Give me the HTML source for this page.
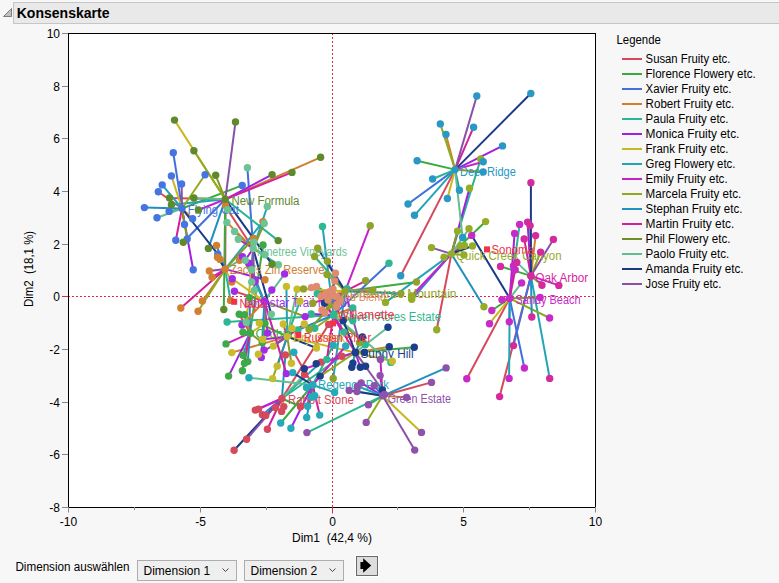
<!DOCTYPE html><html><head><meta charset="utf-8"><title>Konsenskarte</title><style>
html,body{margin:0;padding:0;background:#f7f7f7;}body{width:779px;height:583px;overflow:hidden;font-family:"Liberation Sans",sans-serif;}
svg{display:block;}text{font-family:"Liberation Sans",sans-serif;}
</style></head><body>
<svg width="779" height="583" viewBox="0 0 779 583">
<rect x="0" y="0" width="779" height="583" fill="#f7f7f7"/>
<rect x="13.5" y="2.5" width="770" height="21" fill="#e9e9e9" stroke="#c6c6c6" stroke-width="1"/>
<path d="M3.5 16.5 L11.5 16.5 L11.5 8.5 Z" fill="#c0c0c0" stroke="#7c7c7c" stroke-width="1"/>
<text x="16.7" y="17.7" font-size="15.4" font-weight="bold" fill="#000" textLength="92.8" lengthAdjust="spacingAndGlyphs">Konsenskarte</text>
<rect x="68" y="33" width="527" height="474" fill="#fff"/>
<line x1="68" y1="296.5" x2="595" y2="296.5" stroke="#e0284a" stroke-width="1" stroke-dasharray="2 2"/>
<line x1="332.5" y1="33" x2="332.5" y2="507" stroke="#e0284a" stroke-width="1" stroke-dasharray="2 2"/>
<g id="data">
<g stroke-width="2" stroke-linecap="butt" font-size="12">
<line x1="281.9" y1="398.5" x2="328.7" y2="324.4" stroke="#D5495A"/>
<line x1="250" y1="333.1" x2="239.2" y2="314.3" stroke="#D5495A"/>
<line x1="182" y1="208.5" x2="158.3" y2="191.7" stroke="#D5495A"/>
<line x1="225.2" y1="269.1" x2="225.6" y2="205.2" stroke="#D5495A"/>
<line x1="333.5" y1="315" x2="317.3" y2="293.8" stroke="#D5495A"/>
<line x1="264.4" y1="301.4" x2="234.4" y2="291.2" stroke="#D5495A"/>
<line x1="287.2" y1="336.6" x2="283.3" y2="324" stroke="#D5495A"/>
<line x1="312.7" y1="385" x2="293.8" y2="352.2" stroke="#D5495A"/>
<line x1="509.7" y1="298.3" x2="466.8" y2="378.7" stroke="#D5495A"/>
<line x1="451.4" y1="253.9" x2="436.7" y2="329.7" stroke="#D5495A"/>
<line x1="455.1" y1="169.6" x2="400.7" y2="275.8" stroke="#D5495A"/>
<line x1="530.9" y1="275.9" x2="499.6" y2="396.6" stroke="#D5495A"/>
<line x1="345.2" y1="291.2" x2="312.8" y2="303.2" stroke="#D5495A"/>
<line x1="253.2" y1="248.5" x2="227.6" y2="209.8" stroke="#D5495A"/>
<line x1="355.4" y1="352.5" x2="364.4" y2="352.4" stroke="#D5495A"/>
<line x1="382.6" y1="395.8" x2="431.5" y2="382.4" stroke="#D5495A"/>
<line x1="331.5" y1="295.5" x2="311.4" y2="287.6" stroke="#D5495A"/>
<line x1="225.3" y1="199.3" x2="169.5" y2="198" stroke="#D5495A"/>
<line x1="281.9" y1="398.5" x2="300.5" y2="406.7" stroke="#3CAA3C"/>
<line x1="250" y1="333.1" x2="263" y2="245" stroke="#3CAA3C"/>
<line x1="182" y1="208.5" x2="242.2" y2="185.4" stroke="#3CAA3C"/>
<line x1="333.5" y1="315" x2="347" y2="288.8" stroke="#3CAA3C"/>
<line x1="264.4" y1="301.4" x2="242.4" y2="256.6" stroke="#3CAA3C"/>
<line x1="287.2" y1="336.6" x2="259.3" y2="323.1" stroke="#3CAA3C"/>
<line x1="312.7" y1="385" x2="280.7" y2="423" stroke="#3CAA3C"/>
<line x1="509.7" y1="298.3" x2="491.8" y2="310.5" stroke="#3CAA3C"/>
<line x1="451.4" y1="253.9" x2="485.6" y2="221.6" stroke="#3CAA3C"/>
<line x1="455.1" y1="169.6" x2="417.1" y2="160.8" stroke="#3CAA3C"/>
<line x1="530.9" y1="275.9" x2="500.5" y2="266.4" stroke="#3CAA3C"/>
<line x1="345.2" y1="291.2" x2="416.5" y2="282" stroke="#3CAA3C"/>
<line x1="253.2" y1="248.5" x2="234.6" y2="231.4" stroke="#3CAA3C"/>
<line x1="355.4" y1="352.5" x2="414.3" y2="347.2" stroke="#3CAA3C"/>
<line x1="382.6" y1="395.8" x2="368.4" y2="404.8" stroke="#3CAA3C"/>
<line x1="331.5" y1="295.5" x2="316.5" y2="286.4" stroke="#3CAA3C"/>
<line x1="225.3" y1="199.3" x2="223.8" y2="309.5" stroke="#3CAA3C"/>
<line x1="281.9" y1="398.5" x2="262.4" y2="414.7" stroke="#4070DC"/>
<line x1="250" y1="333.1" x2="249.6" y2="297.8" stroke="#4070DC"/>
<line x1="182" y1="208.5" x2="173.3" y2="152.8" stroke="#4070DC"/>
<line x1="225.2" y1="269.1" x2="220.1" y2="259.4" stroke="#4070DC"/>
<line x1="333.5" y1="315" x2="389" y2="263.3" stroke="#4070DC"/>
<line x1="264.4" y1="301.4" x2="248.8" y2="263.2" stroke="#4070DC"/>
<line x1="287.2" y1="336.6" x2="292" y2="328.4" stroke="#4070DC"/>
<line x1="312.7" y1="385" x2="306.5" y2="387.6" stroke="#4070DC"/>
<line x1="509.7" y1="298.3" x2="524.4" y2="368" stroke="#4070DC"/>
<line x1="451.4" y1="253.9" x2="411.7" y2="299.3" stroke="#4070DC"/>
<line x1="455.1" y1="169.6" x2="408" y2="204" stroke="#4070DC"/>
<line x1="530.9" y1="275.9" x2="513.5" y2="345.6" stroke="#4070DC"/>
<line x1="345.2" y1="291.2" x2="327.4" y2="261.3" stroke="#4070DC"/>
<line x1="253.2" y1="248.5" x2="247.4" y2="167.7" stroke="#4070DC"/>
<line x1="355.4" y1="352.5" x2="352.9" y2="363.1" stroke="#4070DC"/>
<line x1="382.6" y1="395.8" x2="374.2" y2="385.8" stroke="#4070DC"/>
<line x1="331.5" y1="295.5" x2="321" y2="296.4" stroke="#4070DC"/>
<line x1="225.3" y1="199.3" x2="183.3" y2="242.2" stroke="#4070DC"/>
<line x1="281.9" y1="398.5" x2="281.6" y2="411.4" stroke="#CF7F30"/>
<line x1="250" y1="333.1" x2="244.6" y2="314.8" stroke="#CF7F30"/>
<line x1="182" y1="208.5" x2="192.6" y2="218.7" stroke="#CF7F30"/>
<line x1="225.2" y1="269.1" x2="202.4" y2="301" stroke="#CF7F30"/>
<line x1="333.5" y1="315" x2="352.8" y2="308" stroke="#CF7F30"/>
<line x1="264.4" y1="301.4" x2="242" y2="325" stroke="#CF7F30"/>
<line x1="287.2" y1="336.6" x2="231.8" y2="352.6" stroke="#CF7F30"/>
<line x1="312.7" y1="385" x2="313.6" y2="396.4" stroke="#CF7F30"/>
<line x1="509.7" y1="298.3" x2="502" y2="299.7" stroke="#CF7F30"/>
<line x1="451.4" y1="253.9" x2="444" y2="257.3" stroke="#CF7F30"/>
<line x1="455.1" y1="169.6" x2="446.0" y2="134.5" stroke="#CF7F30"/>
<line x1="530.9" y1="275.9" x2="535.6" y2="235.6" stroke="#CF7F30"/>
<line x1="345.2" y1="291.2" x2="372.8" y2="290.1" stroke="#CF7F30"/>
<line x1="253.2" y1="248.5" x2="226.9" y2="222.4" stroke="#CF7F30"/>
<line x1="355.4" y1="352.5" x2="389.3" y2="346.7" stroke="#CF7F30"/>
<line x1="382.6" y1="395.8" x2="406.6" y2="397.4" stroke="#CF7F30"/>
<line x1="331.5" y1="295.5" x2="325.8" y2="293.5" stroke="#CF7F30"/>
<line x1="225.3" y1="199.3" x2="320.6" y2="157.3" stroke="#CF7F30"/>
<line x1="281.9" y1="398.5" x2="341.8" y2="356.2" stroke="#28B58F"/>
<line x1="250" y1="333.1" x2="243" y2="332.2" stroke="#28B58F"/>
<line x1="182" y1="208.5" x2="169.1" y2="211.4" stroke="#28B58F"/>
<line x1="225.2" y1="269.1" x2="230.5" y2="300.4" stroke="#28B58F"/>
<line x1="333.5" y1="315" x2="227.1" y2="322" stroke="#28B58F"/>
<line x1="264.4" y1="301.4" x2="271.8" y2="290" stroke="#28B58F"/>
<line x1="287.2" y1="336.6" x2="299.9" y2="301.2" stroke="#28B58F"/>
<line x1="312.7" y1="385" x2="333.2" y2="345.2" stroke="#28B58F"/>
<line x1="509.7" y1="298.3" x2="519.6" y2="224.4" stroke="#28B58F"/>
<line x1="451.4" y1="253.9" x2="480.7" y2="159" stroke="#28B58F"/>
<line x1="455.1" y1="169.6" x2="432.6" y2="179" stroke="#28B58F"/>
<line x1="530.9" y1="275.9" x2="530.1" y2="225.6" stroke="#28B58F"/>
<line x1="345.2" y1="291.2" x2="314.6" y2="256.5" stroke="#28B58F"/>
<line x1="253.2" y1="248.5" x2="278.4" y2="264.7" stroke="#28B58F"/>
<line x1="355.4" y1="352.5" x2="351.8" y2="367.3" stroke="#28B58F"/>
<line x1="382.6" y1="395.8" x2="306.9" y2="432.6" stroke="#28B58F"/>
<line x1="331.5" y1="295.5" x2="329.7" y2="291.6" stroke="#28B58F"/>
<line x1="225.3" y1="199.3" x2="278.2" y2="240.6" stroke="#28B58F"/>
<line x1="281.9" y1="398.5" x2="255.3" y2="410.1" stroke="#A020E0"/>
<line x1="250" y1="333.1" x2="228.6" y2="376.1" stroke="#A020E0"/>
<line x1="182" y1="208.5" x2="193.2" y2="269.8" stroke="#A020E0"/>
<line x1="225.2" y1="269.1" x2="265" y2="279.7" stroke="#A020E0"/>
<line x1="333.5" y1="315" x2="311.2" y2="314" stroke="#A020E0"/>
<line x1="287.2" y1="336.6" x2="262.8" y2="339.5" stroke="#A020E0"/>
<line x1="312.7" y1="385" x2="290.9" y2="428.2" stroke="#A020E0"/>
<line x1="509.7" y1="298.3" x2="514.6" y2="233.4" stroke="#A020E0"/>
<line x1="451.4" y1="253.9" x2="469.5" y2="188.3" stroke="#A020E0"/>
<line x1="455.1" y1="169.6" x2="502.5" y2="145.9" stroke="#A020E0"/>
<line x1="530.9" y1="275.9" x2="527.6" y2="222.1" stroke="#A020E0"/>
<line x1="345.2" y1="291.2" x2="329.3" y2="305.1" stroke="#A020E0"/>
<line x1="253.2" y1="248.5" x2="245.2" y2="260.2" stroke="#A020E0"/>
<line x1="355.4" y1="352.5" x2="360.3" y2="367.3" stroke="#A020E0"/>
<line x1="382.6" y1="395.8" x2="361.2" y2="382.9" stroke="#A020E0"/>
<line x1="331.5" y1="295.5" x2="332.6" y2="294.5" stroke="#A020E0"/>
<line x1="225.3" y1="199.3" x2="272.1" y2="174.6" stroke="#A020E0"/>
<line x1="281.9" y1="398.5" x2="283.8" y2="406.6" stroke="#C8B820"/>
<line x1="250" y1="333.1" x2="265" y2="323.6" stroke="#C8B820"/>
<line x1="182" y1="208.5" x2="171.4" y2="175.9" stroke="#C8B820"/>
<line x1="225.2" y1="269.1" x2="231.8" y2="282" stroke="#C8B820"/>
<line x1="333.5" y1="315" x2="352.8" y2="320.8" stroke="#C8B820"/>
<line x1="264.4" y1="301.4" x2="232.2" y2="278.7" stroke="#C8B820"/>
<line x1="287.2" y1="336.6" x2="392.3" y2="361.3" stroke="#C8B820"/>
<line x1="312.7" y1="385" x2="311.3" y2="397.2" stroke="#C8B820"/>
<line x1="509.7" y1="298.3" x2="489.5" y2="323.7" stroke="#C8B820"/>
<line x1="451.4" y1="253.9" x2="460.4" y2="246" stroke="#C8B820"/>
<line x1="455.1" y1="169.6" x2="447.4" y2="198.5" stroke="#C8B820"/>
<line x1="345.2" y1="291.2" x2="303.5" y2="288.9" stroke="#C8B820"/>
<line x1="253.2" y1="248.5" x2="246.3" y2="322.5" stroke="#C8B820"/>
<line x1="355.4" y1="352.5" x2="365.6" y2="366.2" stroke="#C8B820"/>
<line x1="382.6" y1="395.8" x2="421.5" y2="432.4" stroke="#C8B820"/>
<line x1="331.5" y1="295.5" x2="336.4" y2="296.4" stroke="#C8B820"/>
<line x1="225.3" y1="199.3" x2="174.5" y2="120.1" stroke="#C8B820"/>
<line x1="281.9" y1="398.5" x2="321" y2="362.1" stroke="#21A5B5"/>
<line x1="250" y1="333.1" x2="243" y2="355.3" stroke="#21A5B5"/>
<line x1="182" y1="208.5" x2="162.2" y2="184.9" stroke="#21A5B5"/>
<line x1="225.2" y1="269.1" x2="262.9" y2="221.6" stroke="#21A5B5"/>
<line x1="333.5" y1="315" x2="322.5" y2="226.5" stroke="#21A5B5"/>
<line x1="264.4" y1="301.4" x2="255" y2="281.6" stroke="#21A5B5"/>
<line x1="287.2" y1="336.6" x2="286.4" y2="286.4" stroke="#21A5B5"/>
<line x1="312.7" y1="385" x2="334.6" y2="392.4" stroke="#21A5B5"/>
<line x1="509.7" y1="298.3" x2="509.1" y2="378.4" stroke="#21A5B5"/>
<line x1="451.4" y1="253.9" x2="385.5" y2="302.4" stroke="#21A5B5"/>
<line x1="455.1" y1="169.6" x2="414.5" y2="215.3" stroke="#21A5B5"/>
<line x1="530.9" y1="275.9" x2="549.7" y2="378.4" stroke="#21A5B5"/>
<line x1="345.2" y1="291.2" x2="333.2" y2="378.5" stroke="#21A5B5"/>
<line x1="253.2" y1="248.5" x2="267.3" y2="206.5" stroke="#21A5B5"/>
<line x1="355.4" y1="352.5" x2="316.2" y2="363.7" stroke="#21A5B5"/>
<line x1="382.6" y1="395.8" x2="357.5" y2="386.2" stroke="#21A5B5"/>
<line x1="331.5" y1="295.5" x2="334.8" y2="281" stroke="#21A5B5"/>
<line x1="225.3" y1="199.3" x2="171.4" y2="204.7" stroke="#21A5B5"/>
<line x1="281.9" y1="398.5" x2="258.5" y2="409.1" stroke="#C820C8"/>
<line x1="250" y1="333.1" x2="226" y2="343.9" stroke="#C820C8"/>
<line x1="182" y1="208.5" x2="184.5" y2="224.5" stroke="#C820C8"/>
<line x1="225.2" y1="269.1" x2="212.1" y2="277.2" stroke="#C820C8"/>
<line x1="333.5" y1="315" x2="344.1" y2="332.1" stroke="#C820C8"/>
<line x1="264.4" y1="301.4" x2="267.5" y2="333" stroke="#C820C8"/>
<line x1="287.2" y1="336.6" x2="273.4" y2="346.1" stroke="#C820C8"/>
<line x1="312.7" y1="385" x2="345.7" y2="346" stroke="#C820C8"/>
<line x1="509.7" y1="298.3" x2="513.4" y2="266" stroke="#C820C8"/>
<line x1="451.4" y1="253.9" x2="411.6" y2="296" stroke="#C820C8"/>
<line x1="455.1" y1="169.6" x2="483.2" y2="161.8" stroke="#C820C8"/>
<line x1="530.9" y1="275.9" x2="558.8" y2="285.4" stroke="#C820C8"/>
<line x1="345.2" y1="291.2" x2="370.2" y2="225.8" stroke="#C820C8"/>
<line x1="253.2" y1="248.5" x2="251.7" y2="282" stroke="#C820C8"/>
<line x1="355.4" y1="352.5" x2="304.3" y2="368.7" stroke="#C820C8"/>
<line x1="382.6" y1="395.8" x2="380.4" y2="359.4" stroke="#C820C8"/>
<line x1="331.5" y1="295.5" x2="340.3" y2="300.3" stroke="#C820C8"/>
<line x1="225.3" y1="199.3" x2="198.4" y2="210" stroke="#C820C8"/>
<line x1="281.9" y1="398.5" x2="275.5" y2="407.6" stroke="#8FAA1F"/>
<line x1="250" y1="333.1" x2="244.5" y2="363.2" stroke="#8FAA1F"/>
<line x1="182" y1="208.5" x2="205.1" y2="174.7" stroke="#8FAA1F"/>
<line x1="225.2" y1="269.1" x2="198.1" y2="311.3" stroke="#8FAA1F"/>
<line x1="333.5" y1="315" x2="314.7" y2="328.2" stroke="#8FAA1F"/>
<line x1="264.4" y1="301.4" x2="264.1" y2="350.1" stroke="#8FAA1F"/>
<line x1="287.2" y1="336.6" x2="272.6" y2="378.6" stroke="#8FAA1F"/>
<line x1="312.7" y1="385" x2="314.8" y2="395.7" stroke="#8FAA1F"/>
<line x1="509.7" y1="298.3" x2="549.6" y2="318" stroke="#8FAA1F"/>
<line x1="451.4" y1="253.9" x2="463.9" y2="254.9" stroke="#8FAA1F"/>
<line x1="455.1" y1="169.6" x2="440.3" y2="123.9" stroke="#8FAA1F"/>
<line x1="530.9" y1="275.9" x2="540.6" y2="252.1" stroke="#8FAA1F"/>
<line x1="345.2" y1="291.2" x2="327" y2="274.5" stroke="#8FAA1F"/>
<line x1="253.2" y1="248.5" x2="264.9" y2="254.7" stroke="#8FAA1F"/>
<line x1="355.4" y1="352.5" x2="320.2" y2="376.1" stroke="#8FAA1F"/>
<line x1="382.6" y1="395.8" x2="366.2" y2="422.4" stroke="#8FAA1F"/>
<line x1="331.5" y1="295.5" x2="337.4" y2="304.1" stroke="#8FAA1F"/>
<line x1="225.3" y1="199.3" x2="193.9" y2="150.8" stroke="#8FAA1F"/>
<line x1="281.9" y1="398.5" x2="285.4" y2="354.9" stroke="#2090C0"/>
<line x1="250" y1="333.1" x2="247.8" y2="361.6" stroke="#2090C0"/>
<line x1="182" y1="208.5" x2="144.4" y2="207.6" stroke="#2090C0"/>
<line x1="225.2" y1="269.1" x2="216.5" y2="245.4" stroke="#2090C0"/>
<line x1="333.5" y1="315" x2="297.9" y2="330" stroke="#2090C0"/>
<line x1="264.4" y1="301.4" x2="261.3" y2="357.4" stroke="#2090C0"/>
<line x1="287.2" y1="336.6" x2="277.2" y2="366.3" stroke="#2090C0"/>
<line x1="312.7" y1="385" x2="306.7" y2="417.4" stroke="#2090C0"/>
<line x1="509.7" y1="298.3" x2="509.3" y2="321.7" stroke="#2090C0"/>
<line x1="451.4" y1="253.9" x2="483.9" y2="306.7" stroke="#2090C0"/>
<line x1="455.1" y1="169.6" x2="459.5" y2="190.2" stroke="#2090C0"/>
<line x1="530.9" y1="275.9" x2="531.8" y2="317" stroke="#2090C0"/>
<line x1="345.2" y1="291.2" x2="400.9" y2="293.6" stroke="#2090C0"/>
<line x1="253.2" y1="248.5" x2="251.7" y2="269.8" stroke="#2090C0"/>
<line x1="355.4" y1="352.5" x2="362.4" y2="337" stroke="#2090C0"/>
<line x1="382.6" y1="395.8" x2="446.1" y2="367.9" stroke="#2090C0"/>
<line x1="331.5" y1="295.5" x2="336.4" y2="307" stroke="#2090C0"/>
<line x1="225.3" y1="199.3" x2="208.4" y2="248.4" stroke="#2090C0"/>
<line x1="281.9" y1="398.5" x2="267.4" y2="429.3" stroke="#D0209C"/>
<line x1="250" y1="333.1" x2="242.4" y2="370.7" stroke="#D0209C"/>
<line x1="182" y1="208.5" x2="175.8" y2="240.3" stroke="#D0209C"/>
<line x1="225.2" y1="269.1" x2="180.8" y2="308" stroke="#D0209C"/>
<line x1="333.5" y1="315" x2="326.8" y2="359.5" stroke="#D0209C"/>
<line x1="264.4" y1="301.4" x2="286.4" y2="373.6" stroke="#D0209C"/>
<line x1="287.2" y1="336.6" x2="304.3" y2="324" stroke="#D0209C"/>
<line x1="312.7" y1="385" x2="319.7" y2="415.1" stroke="#D0209C"/>
<line x1="509.7" y1="298.3" x2="515.2" y2="269.7" stroke="#D0209C"/>
<line x1="451.4" y1="253.9" x2="464.4" y2="245.4" stroke="#D0209C"/>
<line x1="455.1" y1="169.6" x2="473.6" y2="127.2" stroke="#D0209C"/>
<line x1="530.9" y1="275.9" x2="524.2" y2="238.9" stroke="#D0209C"/>
<line x1="345.2" y1="291.2" x2="365.6" y2="280.8" stroke="#D0209C"/>
<line x1="253.2" y1="248.5" x2="238.3" y2="239.2" stroke="#D0209C"/>
<line x1="355.4" y1="352.5" x2="324.5" y2="303" stroke="#D0209C"/>
<line x1="382.6" y1="395.8" x2="380.1" y2="375.6" stroke="#D0209C"/>
<line x1="331.5" y1="295.5" x2="322" y2="309.9" stroke="#D0209C"/>
<line x1="225.3" y1="199.3" x2="292" y2="172.4" stroke="#D0209C"/>
<line x1="281.9" y1="398.5" x2="265.8" y2="415.6" stroke="#869A25"/>
<line x1="250" y1="333.1" x2="262.2" y2="342.4" stroke="#869A25"/>
<line x1="182" y1="208.5" x2="187.2" y2="239" stroke="#869A25"/>
<line x1="225.2" y1="269.1" x2="253.6" y2="238.5" stroke="#869A25"/>
<line x1="333.5" y1="315" x2="365.3" y2="344.7" stroke="#869A25"/>
<line x1="264.4" y1="301.4" x2="305.2" y2="316.6" stroke="#869A25"/>
<line x1="287.2" y1="336.6" x2="291.4" y2="363.2" stroke="#869A25"/>
<line x1="509.7" y1="298.3" x2="540.1" y2="297.4" stroke="#869A25"/>
<line x1="451.4" y1="253.9" x2="457.5" y2="231.1" stroke="#869A25"/>
<line x1="455.1" y1="169.6" x2="483.2" y2="172" stroke="#869A25"/>
<line x1="530.9" y1="275.9" x2="542" y2="285.2" stroke="#869A25"/>
<line x1="345.2" y1="291.2" x2="309.1" y2="329.5" stroke="#869A25"/>
<line x1="253.2" y1="248.5" x2="264.2" y2="223.5" stroke="#869A25"/>
<line x1="382.6" y1="395.8" x2="384.5" y2="394.5" stroke="#869A25"/>
<line x1="331.5" y1="295.5" x2="324.9" y2="312.8" stroke="#869A25"/>
<line x1="225.3" y1="199.3" x2="215.7" y2="175.3" stroke="#869A25"/>
<line x1="281.9" y1="398.5" x2="304.5" y2="374.4" stroke="#5FBF8F"/>
<line x1="182" y1="208.5" x2="157" y2="217.8" stroke="#5FBF8F"/>
<line x1="225.2" y1="269.1" x2="239.6" y2="260.3" stroke="#5FBF8F"/>
<line x1="333.5" y1="315" x2="390.9" y2="362.4" stroke="#5FBF8F"/>
<line x1="264.4" y1="301.4" x2="284.6" y2="273.9" stroke="#5FBF8F"/>
<line x1="287.2" y1="336.6" x2="297.1" y2="289.3" stroke="#5FBF8F"/>
<line x1="312.7" y1="385" x2="248.9" y2="377.7" stroke="#5FBF8F"/>
<line x1="509.7" y1="298.3" x2="521.6" y2="282.9" stroke="#5FBF8F"/>
<line x1="451.4" y1="253.9" x2="469" y2="228.7" stroke="#5FBF8F"/>
<line x1="455.1" y1="169.6" x2="462.6" y2="237.5" stroke="#5FBF8F"/>
<line x1="530.9" y1="275.9" x2="516.8" y2="262.4" stroke="#5FBF8F"/>
<line x1="345.2" y1="291.2" x2="340" y2="300" stroke="#5FBF8F"/>
<line x1="253.2" y1="248.5" x2="253.9" y2="242.2" stroke="#5FBF8F"/>
<line x1="355.4" y1="352.5" x2="388" y2="327.3" stroke="#5FBF8F"/>
<line x1="382.6" y1="395.8" x2="357" y2="391.6" stroke="#5FBF8F"/>
<line x1="331.5" y1="295.5" x2="328" y2="300" stroke="#5FBF8F"/>
<line x1="225.3" y1="199.3" x2="193.9" y2="198" stroke="#5FBF8F"/>
<line x1="281.9" y1="398.5" x2="234.1" y2="450.3" stroke="#1A3A85"/>
<line x1="182" y1="208.5" x2="217.8" y2="254.2" stroke="#1A3A85"/>
<line x1="225.2" y1="269.1" x2="217.5" y2="257.3" stroke="#1A3A85"/>
<line x1="287.2" y1="336.6" x2="316.5" y2="348" stroke="#1A3A85"/>
<line x1="312.7" y1="385" x2="292.7" y2="372.6" stroke="#1A3A85"/>
<line x1="509.7" y1="298.3" x2="471.7" y2="235.4" stroke="#1A3A85"/>
<line x1="451.4" y1="253.9" x2="472.5" y2="246" stroke="#1A3A85"/>
<line x1="455.1" y1="169.6" x2="530.8" y2="93.5" stroke="#1A3A85"/>
<line x1="530.9" y1="275.9" x2="530.9" y2="182.8" stroke="#1A3A85"/>
<line x1="345.2" y1="291.2" x2="317.7" y2="248.2" stroke="#1A3A85"/>
<line x1="253.2" y1="248.5" x2="271.3" y2="314.2" stroke="#1A3A85"/>
<line x1="355.4" y1="352.5" x2="343.2" y2="320.4" stroke="#1A3A85"/>
<line x1="382.6" y1="395.8" x2="349.2" y2="390.4" stroke="#1A3A85"/>
<line x1="331.5" y1="295.5" x2="335.5" y2="273.2" stroke="#1A3A85"/>
<line x1="225.3" y1="199.3" x2="272" y2="264.3" stroke="#1A3A85"/>
<line x1="281.9" y1="398.5" x2="246.6" y2="439.3" stroke="#8A4FA8"/>
<line x1="182" y1="208.5" x2="181.6" y2="184" stroke="#8A4FA8"/>
<line x1="225.2" y1="269.1" x2="209.3" y2="271" stroke="#8A4FA8"/>
<line x1="287.2" y1="336.6" x2="258.4" y2="354.3" stroke="#8A4FA8"/>
<line x1="312.7" y1="385" x2="307.6" y2="406.3" stroke="#8A4FA8"/>
<line x1="451.4" y1="253.9" x2="431.5" y2="247.6" stroke="#8A4FA8"/>
<line x1="455.1" y1="169.6" x2="476.8" y2="96.0" stroke="#8A4FA8"/>
<line x1="530.9" y1="275.9" x2="553.4" y2="239.4" stroke="#8A4FA8"/>
<line x1="345.2" y1="291.2" x2="359.5" y2="342.7" stroke="#8A4FA8"/>
<line x1="253.2" y1="248.5" x2="254.4" y2="290.1" stroke="#8A4FA8"/>
<line x1="355.4" y1="352.5" x2="382.4" y2="390" stroke="#8A4FA8"/>
<line x1="382.6" y1="395.8" x2="414.7" y2="450.1" stroke="#8A4FA8"/>
<line x1="331.5" y1="295.5" x2="333" y2="289" stroke="#8A4FA8"/>
<line x1="225.3" y1="199.3" x2="235.5" y2="121.9" stroke="#8A4FA8"/>
<text x="288" y="403.8" fill="#D5495A" textLength="65.8" lengthAdjust="spacingAndGlyphs">Rabbit Stone</text>
<text x="255.5" y="337.8" fill="#3CAA46" textLength="37.0" lengthAdjust="spacingAndGlyphs">Orchid</text>
<text x="187.8" y="214.2" fill="#4575E0" textLength="51.0" lengthAdjust="spacingAndGlyphs">Flying Cat</text>
<text x="229.9" y="274.1" fill="#D08030" textLength="94.6" lengthAdjust="spacingAndGlyphs">Zack's Zin Reserve</text>
<text x="342" y="321.2" fill="#2DB893" textLength="99.0" lengthAdjust="spacingAndGlyphs">Seven Acres Estate</text>
<text x="244" y="306.8" fill="#A52AE8" textLength="106.0" lengthAdjust="spacingAndGlyphs">Lonestar Trail Merlot</text>
<text x="293" y="341.8" fill="#C8BC2C" textLength="52.0" lengthAdjust="spacingAndGlyphs">Dry Creek</text>
<text x="318.1" y="389.4" fill="#26A9B8" textLength="70.9" lengthAdjust="spacingAndGlyphs">Regency Park</text>
<text x="515.5" y="303.9" fill="#C82AC8" textLength="65.1" lengthAdjust="spacingAndGlyphs">Sandy Beach</text>
<text x="456.2" y="259.6" fill="#93AD27" textLength="105.3" lengthAdjust="spacingAndGlyphs">Quick Creek Canyon</text>
<text x="459.9" y="175.7" fill="#2A98C4" textLength="56.0" lengthAdjust="spacingAndGlyphs">Deer Ridge</text>
<text x="535.3" y="282.4" fill="#D42A9E" textLength="53.0" lengthAdjust="spacingAndGlyphs">Oak Arbor</text>
<text x="350" y="297.8" fill="#8EA328" textLength="106.5" lengthAdjust="spacingAndGlyphs">Greentree Mountain</text>
<text x="256.9" y="255.8" fill="#6CC496" textLength="90.1" lengthAdjust="spacingAndGlyphs">Pinetree Vineyards</text>
<text x="360.5" y="358.4" fill="#1C3F8C" textLength="53.0" lengthAdjust="spacingAndGlyphs">Sunny Hill</text>
<text x="387.7" y="403.3" fill="#8E52AC" textLength="63.2" lengthAdjust="spacingAndGlyphs">Green Estate</text>
<text x="336.4" y="300.8" fill="#E08A6E" textLength="49.6" lengthAdjust="spacingAndGlyphs">Red Blend</text>
<text x="231.4" y="204.9" fill="#5E8A2C" textLength="68.1" lengthAdjust="spacingAndGlyphs">New Formula</text>
<g fill="#D5495A">
<circle cx="281.9" cy="398.5" r="3.7"/>
<circle cx="234.1" cy="450.3" r="3.7"/>
<circle cx="246.6" cy="439.3" r="3.7"/>
<circle cx="267.4" cy="429.3" r="3.7"/>
<circle cx="255.3" cy="410.1" r="3.7"/>
<circle cx="258.5" cy="409.1" r="3.7"/>
<circle cx="262.4" cy="414.7" r="3.7"/>
<circle cx="265.8" cy="415.6" r="3.7"/>
<circle cx="275.5" cy="407.6" r="3.7"/>
<circle cx="283.8" cy="406.6" r="3.7"/>
<circle cx="281.6" cy="411.4" r="3.7"/>
<circle cx="300.5" cy="406.7" r="3.7"/>
<circle cx="304.5" cy="374.4" r="3.7"/>
<circle cx="285.4" cy="354.9" r="3.7"/>
<circle cx="321" cy="362.1" r="3.7"/>
<circle cx="341.8" cy="356.2" r="3.7"/>
<circle cx="328.7" cy="324.4" r="3.7"/>
</g>
<g fill="#3CAA46">
<circle cx="250" cy="333.1" r="3.7"/>
<circle cx="263" cy="245" r="3.7"/>
<circle cx="249.6" cy="297.8" r="3.7"/>
<circle cx="239.2" cy="314.3" r="3.7"/>
<circle cx="244.6" cy="314.8" r="3.7"/>
<circle cx="243" cy="332.2" r="3.7"/>
<circle cx="265" cy="323.6" r="3.7"/>
<circle cx="226" cy="343.9" r="3.7"/>
<circle cx="243" cy="355.3" r="3.7"/>
<circle cx="244.5" cy="363.2" r="3.7"/>
<circle cx="247.8" cy="361.6" r="3.7"/>
<circle cx="242.4" cy="370.7" r="3.7"/>
<circle cx="228.6" cy="376.1" r="3.7"/>
<circle cx="262.2" cy="342.4" r="3.7"/>
<circle cx="250" cy="333.1" r="3.7"/>
<circle cx="250" cy="333.1" r="3.7"/>
<circle cx="250" cy="333.1" r="3.7"/>
</g>
<g fill="#4575E0">
<circle cx="182" cy="208.5" r="3.7"/>
<circle cx="173.3" cy="152.8" r="3.7"/>
<circle cx="171.4" cy="175.9" r="3.7"/>
<circle cx="181.6" cy="184" r="3.7"/>
<circle cx="205.1" cy="174.7" r="3.7"/>
<circle cx="162.2" cy="184.9" r="3.7"/>
<circle cx="158.3" cy="191.7" r="3.7"/>
<circle cx="144.4" cy="207.6" r="3.7"/>
<circle cx="169.1" cy="211.4" r="3.7"/>
<circle cx="242.2" cy="185.4" r="3.7"/>
<circle cx="157" cy="217.8" r="3.7"/>
<circle cx="192.6" cy="218.7" r="3.7"/>
<circle cx="184.5" cy="224.5" r="3.7"/>
<circle cx="175.8" cy="240.3" r="3.7"/>
<circle cx="187.2" cy="239" r="3.7"/>
<circle cx="193.2" cy="269.8" r="3.7"/>
<circle cx="217.8" cy="254.2" r="3.7"/>
</g>
<g fill="#D08030">
<circle cx="225.2" cy="269.1" r="3.7"/>
<circle cx="180.8" cy="308" r="3.7"/>
<circle cx="198.1" cy="311.3" r="3.7"/>
<circle cx="202.4" cy="301" r="3.7"/>
<circle cx="209.3" cy="271" r="3.7"/>
<circle cx="212.1" cy="277.2" r="3.7"/>
<circle cx="216.5" cy="245.4" r="3.7"/>
<circle cx="217.5" cy="257.3" r="3.7"/>
<circle cx="220.1" cy="259.4" r="3.7"/>
<circle cx="265" cy="279.7" r="3.7"/>
<circle cx="231.8" cy="282" r="3.7"/>
<circle cx="239.6" cy="260.3" r="3.7"/>
<circle cx="253.6" cy="238.5" r="3.7"/>
<circle cx="262.9" cy="221.6" r="3.7"/>
<circle cx="225.6" cy="205.2" r="3.7"/>
<circle cx="230.5" cy="300.4" r="3.7"/>
<circle cx="225.2" cy="269.1" r="3.7"/>
</g>
<g fill="#2DB893">
<circle cx="333.5" cy="315" r="3.7"/>
<circle cx="389" cy="263.3" r="3.7"/>
<circle cx="322.5" cy="226.5" r="3.7"/>
<circle cx="347" cy="288.8" r="3.7"/>
<circle cx="317.3" cy="293.8" r="3.7"/>
<circle cx="311.2" cy="314" r="3.7"/>
<circle cx="352.8" cy="308" r="3.7"/>
<circle cx="352.8" cy="320.8" r="3.7"/>
<circle cx="344.1" cy="332.1" r="3.7"/>
<circle cx="314.7" cy="328.2" r="3.7"/>
<circle cx="297.9" cy="330" r="3.7"/>
<circle cx="227.1" cy="322" r="3.7"/>
<circle cx="326.8" cy="359.5" r="3.7"/>
<circle cx="365.3" cy="344.7" r="3.7"/>
<circle cx="390.9" cy="362.4" r="3.7"/>
<circle cx="333.5" cy="315" r="3.7"/>
<circle cx="333.5" cy="315" r="3.7"/>
</g>
<g fill="#A52AE8">
<circle cx="264.4" cy="301.4" r="3.7"/>
<circle cx="242.4" cy="256.6" r="3.7"/>
<circle cx="248.8" cy="263.2" r="3.7"/>
<circle cx="232.2" cy="278.7" r="3.7"/>
<circle cx="234.4" cy="291.2" r="3.7"/>
<circle cx="284.6" cy="273.9" r="3.7"/>
<circle cx="271.8" cy="290" r="3.7"/>
<circle cx="255" cy="281.6" r="3.7"/>
<circle cx="264.4" cy="301.4" r="3.7"/>
<circle cx="242" cy="325" r="3.7"/>
<circle cx="267.5" cy="333" r="3.7"/>
<circle cx="264.1" cy="350.1" r="3.7"/>
<circle cx="261.3" cy="357.4" r="3.7"/>
<circle cx="286.4" cy="373.6" r="3.7"/>
<circle cx="305.2" cy="316.6" r="3.7"/>
<circle cx="264.4" cy="301.4" r="3.7"/>
<circle cx="264.4" cy="301.4" r="3.7"/>
</g>
<g fill="#C8BC2C">
<circle cx="287.2" cy="336.6" r="3.7"/>
<circle cx="286.4" cy="286.4" r="3.7"/>
<circle cx="297.1" cy="289.3" r="3.7"/>
<circle cx="299.9" cy="301.2" r="3.7"/>
<circle cx="259.3" cy="323.1" r="3.7"/>
<circle cx="283.3" cy="324" r="3.7"/>
<circle cx="292" cy="328.4" r="3.7"/>
<circle cx="304.3" cy="324" r="3.7"/>
<circle cx="262.8" cy="339.5" r="3.7"/>
<circle cx="273.4" cy="346.1" r="3.7"/>
<circle cx="231.8" cy="352.6" r="3.7"/>
<circle cx="258.4" cy="354.3" r="3.7"/>
<circle cx="316.5" cy="348" r="3.7"/>
<circle cx="291.4" cy="363.2" r="3.7"/>
<circle cx="277.2" cy="366.3" r="3.7"/>
<circle cx="272.6" cy="378.6" r="3.7"/>
<circle cx="392.3" cy="361.3" r="3.7"/>
</g>
<g fill="#26A9B8">
<circle cx="312.7" cy="385" r="3.7"/>
<circle cx="293.8" cy="352.2" r="3.7"/>
<circle cx="292.7" cy="372.6" r="3.7"/>
<circle cx="306.5" cy="387.6" r="3.7"/>
<circle cx="313.6" cy="396.4" r="3.7"/>
<circle cx="334.6" cy="392.4" r="3.7"/>
<circle cx="307.6" cy="406.3" r="3.7"/>
<circle cx="306.7" cy="417.4" r="3.7"/>
<circle cx="319.7" cy="415.1" r="3.7"/>
<circle cx="333.2" cy="345.2" r="3.7"/>
<circle cx="345.7" cy="346" r="3.7"/>
<circle cx="280.7" cy="423" r="3.7"/>
<circle cx="290.9" cy="428.2" r="3.7"/>
<circle cx="248.9" cy="377.7" r="3.7"/>
<circle cx="311.3" cy="397.2" r="3.7"/>
<circle cx="314.8" cy="395.7" r="3.7"/>
<circle cx="312.7" cy="385" r="3.7"/>
</g>
<g fill="#C82AC8">
<circle cx="509.7" cy="298.3" r="3.7"/>
<circle cx="471.7" cy="235.4" r="3.7"/>
<circle cx="519.6" cy="224.4" r="3.7"/>
<circle cx="514.6" cy="233.4" r="3.7"/>
<circle cx="513.4" cy="266" r="3.7"/>
<circle cx="515.2" cy="269.7" r="3.7"/>
<circle cx="521.6" cy="282.9" r="3.7"/>
<circle cx="540.1" cy="297.4" r="3.7"/>
<circle cx="502" cy="299.7" r="3.7"/>
<circle cx="491.8" cy="310.5" r="3.7"/>
<circle cx="489.5" cy="323.7" r="3.7"/>
<circle cx="509.3" cy="321.7" r="3.7"/>
<circle cx="549.6" cy="318" r="3.7"/>
<circle cx="524.4" cy="368" r="3.7"/>
<circle cx="509.1" cy="378.4" r="3.7"/>
<circle cx="466.8" cy="378.7" r="3.7"/>
<circle cx="509.7" cy="298.3" r="3.7"/>
</g>
<g fill="#93AD27">
<circle cx="451.4" cy="253.9" r="3.7"/>
<circle cx="469.5" cy="188.3" r="3.7"/>
<circle cx="480.7" cy="159" r="3.7"/>
<circle cx="485.6" cy="221.6" r="3.7"/>
<circle cx="469" cy="228.7" r="3.7"/>
<circle cx="457.5" cy="231.1" r="3.7"/>
<circle cx="431.5" cy="247.6" r="3.7"/>
<circle cx="444" cy="257.3" r="3.7"/>
<circle cx="460.4" cy="246" r="3.7"/>
<circle cx="464.4" cy="245.4" r="3.7"/>
<circle cx="472.5" cy="246" r="3.7"/>
<circle cx="463.9" cy="254.9" r="3.7"/>
<circle cx="483.9" cy="306.7" r="3.7"/>
<circle cx="436.7" cy="329.7" r="3.7"/>
<circle cx="385.5" cy="302.4" r="3.7"/>
<circle cx="411.6" cy="296" r="3.7"/>
<circle cx="411.7" cy="299.3" r="3.7"/>
</g>
<g fill="#2A98C4">
<circle cx="455.1" cy="169.6" r="3.7"/>
<circle cx="476.8" cy="96.0" r="3.7"/>
<circle cx="530.8" cy="93.5" r="3.7"/>
<circle cx="440.3" cy="123.9" r="3.7"/>
<circle cx="446.0" cy="134.5" r="3.7"/>
<circle cx="473.6" cy="127.2" r="3.7"/>
<circle cx="502.5" cy="145.9" r="3.7"/>
<circle cx="417.1" cy="160.8" r="3.7"/>
<circle cx="483.2" cy="161.8" r="3.7"/>
<circle cx="483.2" cy="172" r="3.7"/>
<circle cx="432.6" cy="179" r="3.7"/>
<circle cx="408" cy="204" r="3.7"/>
<circle cx="414.5" cy="215.3" r="3.7"/>
<circle cx="447.4" cy="198.5" r="3.7"/>
<circle cx="459.5" cy="190.2" r="3.7"/>
<circle cx="462.6" cy="237.5" r="3.7"/>
<circle cx="400.7" cy="275.8" r="3.7"/>
</g>
<g fill="#D42A9E">
<circle cx="530.9" cy="275.9" r="3.7"/>
<circle cx="530.9" cy="182.8" r="3.7"/>
<circle cx="527.6" cy="222.1" r="3.7"/>
<circle cx="530.1" cy="225.6" r="3.7"/>
<circle cx="524.2" cy="238.9" r="3.7"/>
<circle cx="535.6" cy="235.6" r="3.7"/>
<circle cx="553.4" cy="239.4" r="3.7"/>
<circle cx="540.6" cy="252.1" r="3.7"/>
<circle cx="500.5" cy="266.4" r="3.7"/>
<circle cx="516.8" cy="262.4" r="3.7"/>
<circle cx="542" cy="285.2" r="3.7"/>
<circle cx="558.8" cy="285.4" r="3.7"/>
<circle cx="531.8" cy="317" r="3.7"/>
<circle cx="513.5" cy="345.6" r="3.7"/>
<circle cx="549.7" cy="378.4" r="3.7"/>
<circle cx="499.6" cy="396.6" r="3.7"/>
<circle cx="530.9" cy="275.9" r="3.7"/>
</g>
<g fill="#8EA328">
<circle cx="345.2" cy="291.2" r="3.7"/>
<circle cx="370.2" cy="225.8" r="3.7"/>
<circle cx="365.6" cy="280.8" r="3.7"/>
<circle cx="416.5" cy="282" r="3.7"/>
<circle cx="372.8" cy="290.1" r="3.7"/>
<circle cx="400.9" cy="293.6" r="3.7"/>
<circle cx="317.7" cy="248.2" r="3.7"/>
<circle cx="314.6" cy="256.5" r="3.7"/>
<circle cx="327.4" cy="261.3" r="3.7"/>
<circle cx="327" cy="274.5" r="3.7"/>
<circle cx="303.5" cy="288.9" r="3.7"/>
<circle cx="312.8" cy="303.2" r="3.7"/>
<circle cx="329.3" cy="305.1" r="3.7"/>
<circle cx="309.1" cy="329.5" r="3.7"/>
<circle cx="333.2" cy="378.5" r="3.7"/>
<circle cx="359.5" cy="342.7" r="3.7"/>
<circle cx="340" cy="300" r="3.7"/>
</g>
<g fill="#6CC496">
<circle cx="253.2" cy="248.5" r="3.7"/>
<circle cx="247.4" cy="167.7" r="3.7"/>
<circle cx="267.3" cy="206.5" r="3.7"/>
<circle cx="227.6" cy="209.8" r="3.7"/>
<circle cx="226.9" cy="222.4" r="3.7"/>
<circle cx="234.6" cy="231.4" r="3.7"/>
<circle cx="238.3" cy="239.2" r="3.7"/>
<circle cx="264.2" cy="223.5" r="3.7"/>
<circle cx="253.9" cy="242.2" r="3.7"/>
<circle cx="264.9" cy="254.7" r="3.7"/>
<circle cx="245.2" cy="260.2" r="3.7"/>
<circle cx="251.7" cy="269.8" r="3.7"/>
<circle cx="278.4" cy="264.7" r="3.7"/>
<circle cx="251.7" cy="282" r="3.7"/>
<circle cx="254.4" cy="290.1" r="3.7"/>
<circle cx="271.3" cy="314.2" r="3.7"/>
<circle cx="246.3" cy="322.5" r="3.7"/>
</g>
<g fill="#1C3F8C">
<circle cx="355.4" cy="352.5" r="3.7"/>
<circle cx="388" cy="327.3" r="3.7"/>
<circle cx="389.3" cy="346.7" r="3.7"/>
<circle cx="414.3" cy="347.2" r="3.7"/>
<circle cx="364.4" cy="352.4" r="3.7"/>
<circle cx="352.9" cy="363.1" r="3.7"/>
<circle cx="351.8" cy="367.3" r="3.7"/>
<circle cx="360.3" cy="367.3" r="3.7"/>
<circle cx="365.6" cy="366.2" r="3.7"/>
<circle cx="316.2" cy="363.7" r="3.7"/>
<circle cx="304.3" cy="368.7" r="3.7"/>
<circle cx="320.2" cy="376.1" r="3.7"/>
<circle cx="382.4" cy="390" r="3.7"/>
<circle cx="343.2" cy="320.4" r="3.7"/>
<circle cx="362.4" cy="337" r="3.7"/>
<circle cx="324.5" cy="303" r="3.7"/>
<circle cx="355.4" cy="352.5" r="3.7"/>
</g>
<g fill="#8E52AC">
<circle cx="382.6" cy="395.8" r="3.7"/>
<circle cx="446.1" cy="367.9" r="3.7"/>
<circle cx="431.5" cy="382.4" r="3.7"/>
<circle cx="406.6" cy="397.4" r="3.7"/>
<circle cx="421.5" cy="432.4" r="3.7"/>
<circle cx="414.7" cy="450.1" r="3.7"/>
<circle cx="366.2" cy="422.4" r="3.7"/>
<circle cx="368.4" cy="404.8" r="3.7"/>
<circle cx="380.4" cy="359.4" r="3.7"/>
<circle cx="380.1" cy="375.6" r="3.7"/>
<circle cx="361.2" cy="382.9" r="3.7"/>
<circle cx="374.2" cy="385.8" r="3.7"/>
<circle cx="349.2" cy="390.4" r="3.7"/>
<circle cx="357.5" cy="386.2" r="3.7"/>
<circle cx="357" cy="391.6" r="3.7"/>
<circle cx="306.9" cy="432.6" r="3.7"/>
<circle cx="384.5" cy="394.5" r="3.7"/>
</g>
<g fill="#E08A6E">
<circle cx="331.5" cy="295.5" r="3.7"/>
<circle cx="335.5" cy="273.2" r="3.7"/>
<circle cx="334.8" cy="281" r="3.7"/>
<circle cx="311.4" cy="287.6" r="3.7"/>
<circle cx="316.5" cy="286.4" r="3.7"/>
<circle cx="321" cy="296.4" r="3.7"/>
<circle cx="325.8" cy="293.5" r="3.7"/>
<circle cx="329.7" cy="291.6" r="3.7"/>
<circle cx="332.6" cy="294.5" r="3.7"/>
<circle cx="336.4" cy="296.4" r="3.7"/>
<circle cx="340.3" cy="300.3" r="3.7"/>
<circle cx="337.4" cy="304.1" r="3.7"/>
<circle cx="336.4" cy="307" r="3.7"/>
<circle cx="322" cy="309.9" r="3.7"/>
<circle cx="324.9" cy="312.8" r="3.7"/>
<circle cx="328" cy="300" r="3.7"/>
<circle cx="333" cy="289" r="3.7"/>
</g>
<g fill="#5E8A2C">
<circle cx="225.3" cy="199.3" r="3.7"/>
<circle cx="174.5" cy="120.1" r="3.7"/>
<circle cx="235.5" cy="121.9" r="3.7"/>
<circle cx="193.9" cy="150.8" r="3.7"/>
<circle cx="215.7" cy="175.3" r="3.7"/>
<circle cx="272.1" cy="174.6" r="3.7"/>
<circle cx="292" cy="172.4" r="3.7"/>
<circle cx="320.6" cy="157.3" r="3.7"/>
<circle cx="169.5" cy="198" r="3.7"/>
<circle cx="193.9" cy="198" r="3.7"/>
<circle cx="171.4" cy="204.7" r="3.7"/>
<circle cx="198.4" cy="210" r="3.7"/>
<circle cx="208.4" cy="248.4" r="3.7"/>
<circle cx="183.3" cy="242.2" r="3.7"/>
<circle cx="278.2" cy="240.6" r="3.7"/>
<circle cx="272" cy="264.3" r="3.7"/>
<circle cx="223.8" cy="309.5" r="3.7"/>
</g>
<rect x="231.2" y="298.8" width="6" height="6" fill="#F0324A"/>
<rect x="484" y="246.4" width="6" height="6" fill="#F0324A"/>
<rect x="330" y="320.4" width="6" height="6" fill="#F0324A"/>
<rect x="295.3" y="332" width="6" height="6" fill="#F0324A"/>
<text x="239.5" y="308.4" fill="#F0324A" textLength="26.5" lengthAdjust="spacingAndGlyphs">Napa</text>
<text x="491.5" y="254.4" fill="#F0324A" textLength="42.3" lengthAdjust="spacingAndGlyphs">Sonoma</text>
<text x="337.6" y="319.2" fill="#F0324A" textLength="56.9" lengthAdjust="spacingAndGlyphs">Willamette</text>
<text x="303.7" y="341.5" fill="#F0324A" textLength="67.3" lengthAdjust="spacingAndGlyphs">Russian River</text>
</g>
</g>
<rect x="68.5" y="33.5" width="527" height="474" fill="none" stroke="#000" stroke-width="1"/>
<line x1="62" y1="507.5" x2="68" y2="507.5" stroke="#888" stroke-width="1"/>
<text x="60" y="511.5" font-size="12" text-anchor="end" fill="#000">-8</text>
<line x1="62" y1="454.5" x2="68" y2="454.5" stroke="#888" stroke-width="1"/>
<text x="60" y="458.5" font-size="12" text-anchor="end" fill="#000">-6</text>
<line x1="62" y1="402.5" x2="68" y2="402.5" stroke="#888" stroke-width="1"/>
<text x="60" y="406.5" font-size="12" text-anchor="end" fill="#000">-4</text>
<line x1="62" y1="349.5" x2="68" y2="349.5" stroke="#888" stroke-width="1"/>
<text x="60" y="353.5" font-size="12" text-anchor="end" fill="#000">-2</text>
<line x1="62" y1="296.5" x2="68" y2="296.5" stroke="#e0284a" stroke-width="1"/>
<text x="60" y="300.5" font-size="12" text-anchor="end" fill="#000">0</text>
<line x1="62" y1="244.5" x2="68" y2="244.5" stroke="#888" stroke-width="1"/>
<text x="60" y="248.5" font-size="12" text-anchor="end" fill="#000">2</text>
<line x1="62" y1="191.5" x2="68" y2="191.5" stroke="#888" stroke-width="1"/>
<text x="60" y="195.5" font-size="12" text-anchor="end" fill="#000">4</text>
<line x1="62" y1="138.5" x2="68" y2="138.5" stroke="#888" stroke-width="1"/>
<text x="60" y="142.5" font-size="12" text-anchor="end" fill="#000">6</text>
<line x1="62" y1="86.5" x2="68" y2="86.5" stroke="#888" stroke-width="1"/>
<text x="60" y="90.5" font-size="12" text-anchor="end" fill="#000">8</text>
<line x1="62" y1="33.5" x2="68" y2="33.5" stroke="#888" stroke-width="1"/>
<text x="60" y="37.5" font-size="12" text-anchor="end" fill="#000">10</text>
<line x1="68.5" y1="507" x2="68.5" y2="512.5" stroke="#888" stroke-width="1"/>
<text x="68.5" y="526" font-size="12" text-anchor="middle" fill="#000">-10</text>
<line x1="134.5" y1="507" x2="134.5" y2="510" stroke="#888" stroke-width="1"/>
<line x1="200.5" y1="507" x2="200.5" y2="512.5" stroke="#888" stroke-width="1"/>
<text x="200.5" y="526" font-size="12" text-anchor="middle" fill="#000">-5</text>
<line x1="266.5" y1="507" x2="266.5" y2="510" stroke="#888" stroke-width="1"/>
<line x1="332.5" y1="507" x2="332.5" y2="513.5" stroke="#e0284a" stroke-width="1"/>
<text x="332.5" y="526" font-size="12" text-anchor="middle" fill="#000">0</text>
<line x1="397.5" y1="507" x2="397.5" y2="510" stroke="#888" stroke-width="1"/>
<line x1="463.5" y1="507" x2="463.5" y2="512.5" stroke="#888" stroke-width="1"/>
<text x="463.5" y="526" font-size="12" text-anchor="middle" fill="#000">5</text>
<line x1="529.5" y1="507" x2="529.5" y2="510" stroke="#888" stroke-width="1"/>
<line x1="595.5" y1="507" x2="595.5" y2="512.5" stroke="#888" stroke-width="1"/>
<text x="595.5" y="526" font-size="12" text-anchor="middle" fill="#000">10</text>
<text x="332" y="542" font-size="12" text-anchor="middle" fill="#000" xml:space="preserve">Dim1  (42,4 %)</text>
<text transform="translate(32.5,269) rotate(-90)" font-size="12" text-anchor="middle" fill="#000" xml:space="preserve" textLength="76.2" lengthAdjust="spacingAndGlyphs">Dim2  (18,1 %)</text>
<text x="616.5" y="44" font-size="12" fill="#000" textLength="44.3" lengthAdjust="spacingAndGlyphs">Legende</text>
<line x1="622" y1="59" x2="642" y2="59" stroke="#D5495A" stroke-width="2"/>
<text x="645.6" y="62.8" font-size="12" fill="#000" textLength="84.8" lengthAdjust="spacingAndGlyphs">Susan Fruity etc.</text>
<line x1="622" y1="74" x2="642" y2="74" stroke="#3CAA3C" stroke-width="2"/>
<text x="645.6" y="77.8" font-size="12" fill="#000" textLength="110" lengthAdjust="spacingAndGlyphs">Florence Flowery etc.</text>
<line x1="622" y1="89" x2="642" y2="89" stroke="#4070DC" stroke-width="2"/>
<text x="645.6" y="92.8" font-size="12" fill="#000" textLength="85.9" lengthAdjust="spacingAndGlyphs">Xavier Fruity etc.</text>
<line x1="622" y1="104" x2="642" y2="104" stroke="#CF7F30" stroke-width="2"/>
<text x="645.6" y="107.8" font-size="12" fill="#000" textLength="88.7" lengthAdjust="spacingAndGlyphs">Robert Fruity etc.</text>
<line x1="622" y1="119" x2="642" y2="119" stroke="#28B58F" stroke-width="2"/>
<text x="645.6" y="122.8" font-size="12" fill="#000" textLength="82.9" lengthAdjust="spacingAndGlyphs">Paula Fruity etc.</text>
<line x1="622" y1="134" x2="642" y2="134" stroke="#A020E0" stroke-width="2"/>
<text x="645.6" y="137.8" font-size="12" fill="#000" textLength="93.8" lengthAdjust="spacingAndGlyphs">Monica Fruity etc.</text>
<line x1="622" y1="149" x2="642" y2="149" stroke="#C8B820" stroke-width="2"/>
<text x="645.6" y="152.8" font-size="12" fill="#000" textLength="82.9" lengthAdjust="spacingAndGlyphs">Frank Fruity etc.</text>
<line x1="622" y1="164" x2="642" y2="164" stroke="#21A5B5" stroke-width="2"/>
<text x="645.6" y="167.8" font-size="12" fill="#000" textLength="89.9" lengthAdjust="spacingAndGlyphs">Greg Flowery etc.</text>
<line x1="622" y1="179" x2="642" y2="179" stroke="#C820C8" stroke-width="2"/>
<text x="645.6" y="182.8" font-size="12" fill="#000" textLength="82" lengthAdjust="spacingAndGlyphs">Emily Fruity etc.</text>
<line x1="622" y1="194" x2="642" y2="194" stroke="#8FAA1F" stroke-width="2"/>
<text x="645.6" y="197.8" font-size="12" fill="#000" textLength="95.6" lengthAdjust="spacingAndGlyphs">Marcela Fruity etc.</text>
<line x1="622" y1="209" x2="642" y2="209" stroke="#2090C0" stroke-width="2"/>
<text x="645.6" y="212.8" font-size="12" fill="#000" textLength="96.8" lengthAdjust="spacingAndGlyphs">Stephan Fruity etc.</text>
<line x1="622" y1="224" x2="642" y2="224" stroke="#D0209C" stroke-width="2"/>
<text x="645.6" y="227.8" font-size="12" fill="#000" textLength="88.7" lengthAdjust="spacingAndGlyphs">Martin Fruity etc.</text>
<line x1="622" y1="239" x2="642" y2="239" stroke="#6E8C28" stroke-width="2"/>
<text x="645.6" y="242.8" font-size="12" fill="#000" textLength="84.8" lengthAdjust="spacingAndGlyphs">Phil Flowery etc.</text>
<line x1="622" y1="254" x2="642" y2="254" stroke="#5FBF8F" stroke-width="2"/>
<text x="645.6" y="257.8" font-size="12" fill="#000" textLength="83.6" lengthAdjust="spacingAndGlyphs">Paolo Fruity etc.</text>
<line x1="622" y1="269" x2="642" y2="269" stroke="#1A3A85" stroke-width="2"/>
<text x="645.6" y="272.8" font-size="12" fill="#000" textLength="98" lengthAdjust="spacingAndGlyphs">Amanda Fruity etc.</text>
<line x1="622" y1="284" x2="642" y2="284" stroke="#8A4FA8" stroke-width="2"/>
<text x="645.6" y="287.8" font-size="12" fill="#000" textLength="75.7" lengthAdjust="spacingAndGlyphs">Jose Fruity etc.</text>
<text x="15.4" y="571" font-size="12" fill="#000" textLength="114.2" lengthAdjust="spacingAndGlyphs">Dimension auswählen</text>
<rect x="137.5" y="560.5" width="99" height="20" fill="#efefef" stroke="#adadad" stroke-width="1"/>
<text x="143.5" y="575" font-size="12" fill="#000">Dimension 1</text>
<path d="M222.5 568.5 L225.5 571.5 L228.5 568.5" fill="none" stroke="#444" stroke-width="1"/>
<rect x="244.5" y="560.5" width="99" height="20" fill="#efefef" stroke="#adadad" stroke-width="1"/>
<text x="250.5" y="575" font-size="12" fill="#000">Dimension 2</text>
<path d="M329.5 568.5 L332.5 571.5 L335.5 568.5" fill="none" stroke="#444" stroke-width="1"/>
<rect x="355.5" y="555.5" width="23" height="21" fill="none" stroke="#fff" stroke-width="1"/>
<rect x="356.5" y="556.5" width="21" height="19" fill="#dddddd" stroke="#6a6a6a" stroke-width="1"/>
<path d="M360.4 562 L363.2 562 L363.2 558.3 L371.2 565.5 L363.2 572.7 L363.2 569 L360.4 569 Z" fill="#000"/>
</svg></body></html>
